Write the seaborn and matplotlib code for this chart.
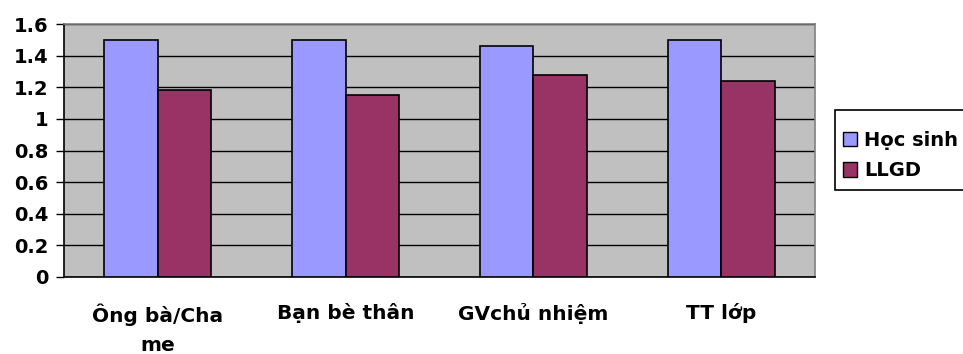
import matplotlib
matplotlib.use("Agg")
import matplotlib.pyplot as plt
import seaborn as sns
import pandas as pd
from matplotlib.ticker import MultipleLocator, FixedLocator, FuncFormatter
from matplotlib.patches import Patch, Rectangle

categories = ["Ông bà/Cha\nme", "Bạn bè thân", "GVchủ nhiệm", "TT lớp"]
series_names = ["Học sinh", "LLGD"]
hoc_sinh = [1.50, 1.50, 1.46, 1.50]
llgd = [1.18, 1.15, 1.28, 1.24]
colors = ["#9999FF", "#993366"]

df = pd.DataFrame({
    "cat": categories * 2,
    "series": [series_names[0]] * 4 + [series_names[1]] * 4,
    "value": hoc_sinh + llgd,
})

sns.set_style("white")
plt.rcParams["font.family"] = ["DejaVu Sans"]
plt.rcParams["font.weight"] = "bold"
plt.rcParams["text.color"] = "black"

W, H = 963, 354
fig = plt.figure(figsize=(W / 100, H / 100), dpi=100)
L, R, T, B = 64, 815, 24, 277
ax = fig.add_axes([L / W, 1 - B / H, (R - L) / W, (B - T) / H])
ax.set_facecolor("#C0C0C0")

sns.barplot(data=df, x="cat", y="value", hue="series", palette=colors,
            saturation=1, width=0.57, gap=0, edgecolor="black", linewidth=1.2,
            ax=ax, legend=False, zorder=3)

ax.set_ylim(0, 1.6)
ax.set_xlim(-0.5, 3.5)
ax.yaxis.set_major_locator(MultipleLocator(0.2))
ax.yaxis.set_major_formatter(FuncFormatter(lambda v, p: f"{round(v, 1):g}"))
ax.grid(axis="y", color="black", linewidth=1.0, zorder=0)
ax.grid(axis="x", visible=False)
ax.set_axisbelow(True)

ax.xaxis.set_minor_locator(FixedLocator([-0.5, 0.5, 1.5, 2.5, 3.5]))
ax.tick_params(axis="x", which="major", length=0, pad=19, labelsize=14.5,
               labelcolor="black")
ax.tick_params(axis="x", which="minor", length=6, width=1.0, color="black", direction="out")
ax.tick_params(axis="y", length=6, width=1.0, color="black", direction="out",
               labelsize=14, pad=5, labelcolor="black")
ax.tick_params(bottom=True, left=True)
for lab in ax.get_xticklabels():
    lab.set_fontweight("bold")
    lab.set_linespacing(1.65)
for lab in ax.get_yticklabels():
    lab.set_fontweight("bold")
ax.set_xlabel("")
ax.set_ylabel("")

for s in ["left", "bottom"]:
    ax.spines[s].set_color("black")
    ax.spines[s].set_linewidth(1.2)
for s in ["top", "right"]:
    ax.spines[s].set_color("#808080")
    ax.spines[s].set_linewidth(1.2)

# legend box (extends past the right edge of the figure, as in the reference)
fig.patches.append(Rectangle((835 / W, 1 - 190 / H), 150 / W, 80 / H,
                             transform=fig.transFigure, facecolor="white",
                             edgecolor="black", linewidth=1.2, zorder=1))
handles = [Patch(facecolor=c, edgecolor="black", linewidth=1.0) for c in colors]
leg = fig.legend(handles, series_names, loc="center left",
                 bbox_to_anchor=(835 / W, 1 - 155.5 / H),
                 frameon=False,
                 prop={"weight": "bold", "size": 14},
                 handlelength=0.75, handleheight=0.75, handletextpad=0.35,
                 labelspacing=0.6, borderpad=0.4, borderaxespad=0)
for t in leg.get_texts():
    t.set_color("black")

fig.savefig("out.png", dpi=100)
